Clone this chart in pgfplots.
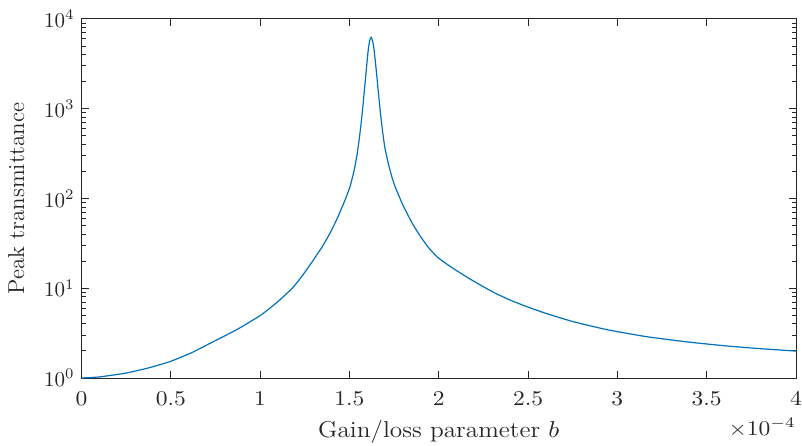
\RequirePackage{fix-cm}
\documentclass[border=0pt]{standalone}
\usepackage{fontspec}
\usepackage{graphicx}
\usepackage{pgfplots}
\pgfplotsset{compat=1.18}
\definecolor{mblue}{rgb}{0,0.447,0.741}
\definecolor{axgray}{rgb}{0.15,0.15,0.15}
\newcommand{\xs}[1]{\scalebox{1.12}[1]{#1}}
\begin{document}
\begin{tikzpicture}
\begin{axis}[
  scale only axis,
  width=357.25pt, height=179.5pt,
  xmin=0, xmax=4, ymin=1, ymax=10000,
  ymode=log,
  xtick={0,0.5,1,1.5,2,2.5,3,3.5,4},
  xticklabels={\xs{0},\xs{0.5},\xs{1},\xs{1.5},\xs{2},\xs{2.5},\xs{3},\xs{3.5},\xs{4}},
  ytick={1,10,100,1000,10000},
  tick pos=both,
  tick align=inside,
  major tick length=3.5pt,
  minor tick length=2pt,
  axis line style={axgray, line width=0.5pt},
  every tick/.style={axgray, line width=0.5pt},
  tick label style={font=\fontsize{10.5}{12}\selectfont, text=axgray},
  xticklabel style={yshift=-3pt},
  label style={font=\fontsize{11.5}{13}\selectfont, text=axgray},
  xlabel={\scalebox{1.1}[1]{Gain/loss parameter $b$}},
  ylabel={Peak transmittance},
  xlabel style={yshift=-0.5pt},
  ylabel shift=3pt,
  clip mode=individual,
]
\addplot[mblue, line width=0.6pt, smooth, tension=0.3] coordinates {
(0.000,1.000) (0.100,1.028) (0.244,1.130) (0.370,1.288) (0.494,1.521)
(0.620,1.928) (0.738,2.541) (0.870,3.467) (1.000,4.955) (1.090,6.839)
(1.180,10.00) (1.240,14.13) (1.298,20.61) (1.350,29.51) (1.391,41.02)
(1.425,56.23) (1.457,78.52) (1.480,101.2) (1.503,134.9) (1.515,166.0)
(1.525,199.5) (1.535,251.2) (1.545,331.1) (1.555,462.4) (1.565,676.1)
(1.578,1216) (1.588,1972) (1.597,3090) (1.606,4677) (1.612,5559)
(1.617,6053) (1.621,6252) (1.625,6095) (1.630,5623) (1.636,4842)
(1.647,3090) (1.655,2138) (1.662,1514) (1.670,1047) (1.677,776.2)
(1.688,512.9) (1.699,363.1) (1.720,234.4) (1.740,167.9) (1.755,136.5)
(1.780,103.5) (1.802,82.22) (1.850,53.70) (1.895,38.46) (1.940,28.84)
(1.989,22.49) (2.050,18.28) (2.119,14.86) (2.175,12.68) (2.240,10.67)
(2.306,9.016) (2.400,7.379) (2.493,6.237) (2.600,5.248) (2.754,4.236)
(2.950,3.428) (3.165,2.884) (3.400,2.512) (3.613,2.275) (3.800,2.123)
(4.000,1.995)
};
\coordinate (sw) at (rel axis cs:0,0);
\node[anchor=base east, inner sep=0pt, yshift=-28.5pt, font=\fontsize{10.5}{12}\selectfont, text=axgray] at (rel axis cs:1,0) {\xs{$\times10^{-4}$}};
\end{axis}
\pgfresetboundingbox
\path (sw) ++(-40.75pt,-33.5pt) rectangle ++(401pt,222.5pt);
\end{tikzpicture}
\end{document}
